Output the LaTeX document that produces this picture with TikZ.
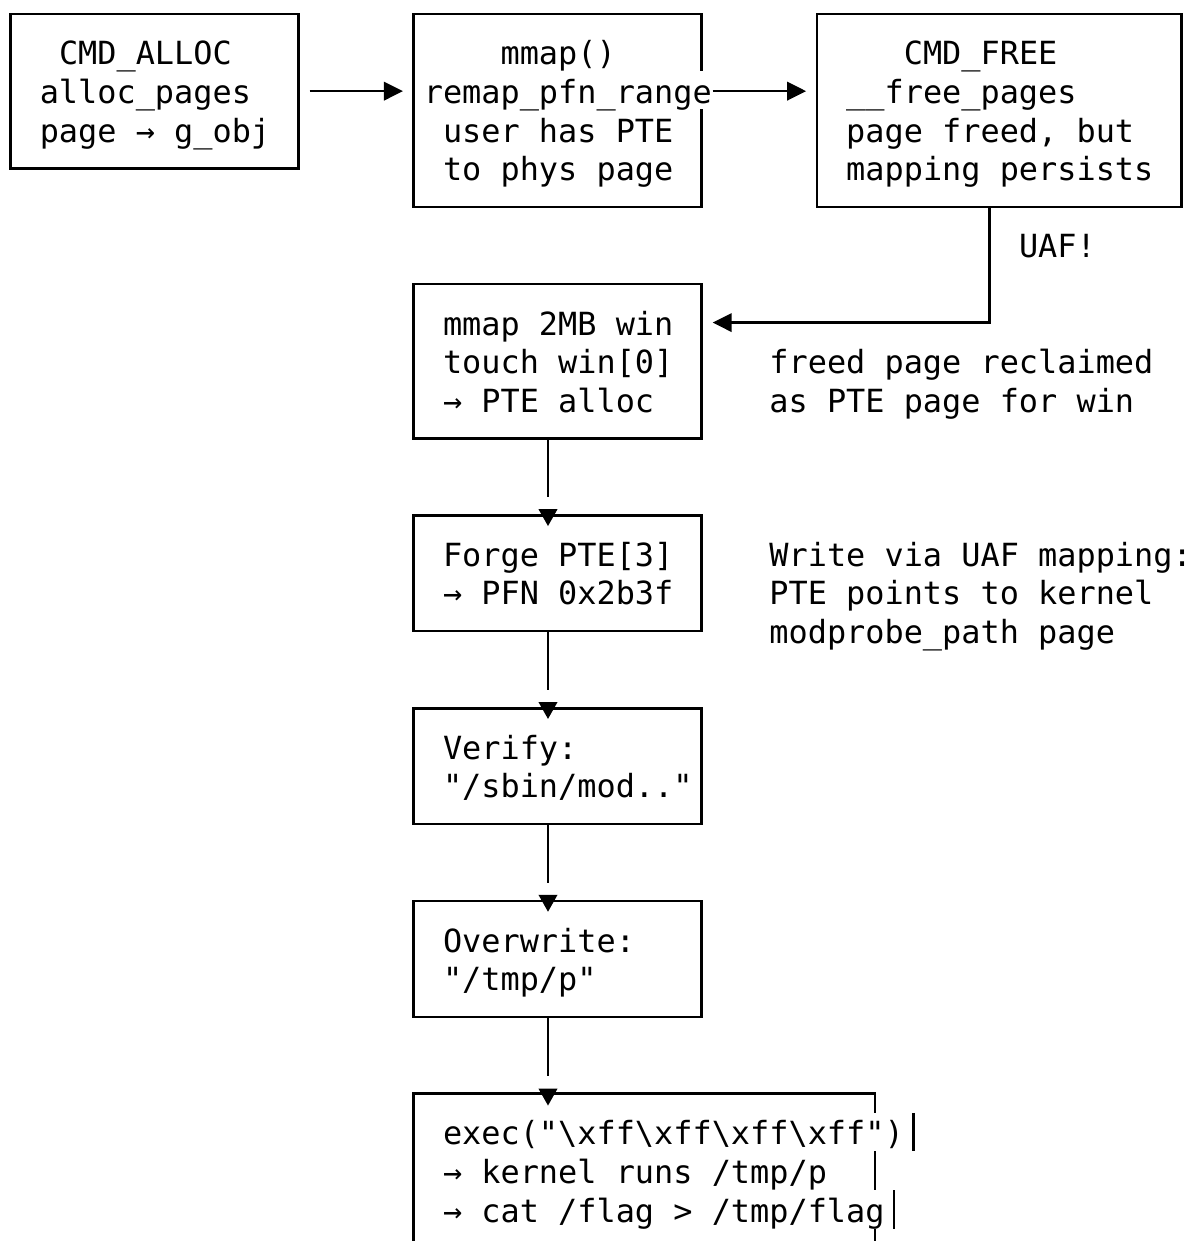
\documentclass[tikz,border=0pt]{standalone}
\usepackage{fontspec}
\newfontfamily\dvmono{DejaVu Sans Mono}
\usetikzlibrary{arrows.meta,calc,fit}
\newcommand\mlines[1]{\begin{tabular}[t]{@{}l@{}}#1\end{tabular}}
\begin{document}
\begin{tikzpicture}[x=0.5pt,y=-0.5pt,
  box/.style={draw, line width=1.3pt, inner sep=0pt},
  frame/.style={inner sep=0pt},
  txt/.style={inner sep=0pt, anchor=base west, font=\dvmono\fontsize{15.945}{19.285}\selectfont},
  edgeline/.style={draw, line width=1.3pt},
  harr/.style={draw, line width=1.3pt, -{Triangle[length=9.5pt,width=9.2pt]}},
  varr/.style={draw, line width=1.3pt, dash pattern=on 28.85pt off 20pt, -{Triangle[length=8.5pt,width=9.2pt]}}]
\useasboundingbox (0,0) rectangle (1192,1241);
\clip (0,0) rectangle (1192,1241);

% boxes
\node[box, fit={(10.4,14) (298.4,168.3)}] (A) {};
\node[box, fit={(413.6,14) (701.6,206.9)}] (B) {};
\node[box, fit={(816.8,14) (1181.6,206.9)}] (C) {};
\node[box, fit={(413.6,284) (701.6,438.3)}] (D) {};
\node[box, fit={(413.6,515.4) (701.6,631.1)}] (E) {};
\node[box, fit={(413.6,708.3) (701.6,824)}] (F) {};
\node[box, fit={(413.6,901.1) (701.6,1016.8)}] (G) {};
\node[frame, fit={(413.6,1094) (874.4,1248.2)}] (H) {};

% last box: ragged right border
\draw[edgeline] (H.south west) -- (H.north west) -- (H.north east) -- ($(H.north east)+(0,19.3)$);
\draw[edgeline] ($(H.north east)+(38.4,19.3)$) -- ($(H.north east)+(38.4,57.8)$);
\draw[edgeline] ($(H.north east)+(0,57.8)$) -- ($(H.north east)+(0,96.4)$);
\draw[edgeline] ($(H.north east)+(19.2,96.4)$) -- ($(H.north east)+(19.2,135)$);
\draw[edgeline] ($(H.north east)+(0,135)$) -- (H.south east);

% text overwrites the right border of B on its second line
\fill[white] ($(B.north east)+(-3,57.9)$) rectangle ($(B.north east)+(3,96.4)$);

% connectors
\draw[harr] ($(A.east)+(9.8,0)$) -- ($(A.east -| B.west)+(-9.4,0)$);
\draw[harr] ($(A.east -| B.east)+(9.8,0)$) -- ($(A.east -| C.west)+(-9.4,0)$);
\draw[harr] ($(C.south)+(-9.6,0)$) |- ($(D.east)+(9.8,-38.57)$);
\draw[varr] ($(D.south)+(-9.6,0)$) -- ($(E.north)+(-9.6,12)$);
\draw[varr] ($(E.south)+(-9.6,0)$) -- ($(F.north)+(-9.6,12)$);
\draw[varr] ($(F.south)+(-9.6,0)$) -- ($(G.north)+(-9.6,12)$);
\draw[varr] ($(G.south)+(-9.6,0)$) -- ($(G.south |- H.north)+(-9.6,12)$);

% texts
\node[txt] (tA) at (39.4,65.0) {\mlines{~CMD\_ALLOC\\alloc\_pages\\page → g\_obj}};
\node[txt] (tB) at (423.4,65.0) {\mlines{~~~~mmap()\\remap\_pfn\_range\\~user has PTE\\~to phys page}};
\node[txt] (tC) at (845.8,65.0) {\mlines{~~~CMD\_FREE\\\_\_free\_pages\\page freed, but\\mapping persists}};
\node[txt] (tUAF) at (1018.6,257.8) {UAF!};
\node[txt] (tD) at (442.6,335.0) {\mlines{mmap 2MB win\\touch win[0]\\→ PTE alloc}};
\node[txt] (tR1) at (769,373.5) {\mlines{freed page reclaimed\\as PTE page for win}};
\node[txt] (tE) at (442.6,566.4) {\mlines{Forge PTE[3]\\→ PFN 0x2b3f}};
\node[txt] (tR2) at (769,566.4) {\mlines{Write via UAF mapping:\\PTE points to kernel\\modprobe\_path page}};
\node[txt] (tF) at (442.6,759.2) {\mlines{Verify:\\"/sbin/mod.."}};
\node[txt] (tG) at (442.6,952.1) {\mlines{Overwrite:\\"/tmp/p"}};
\node[txt] (tH) at (442.6,1144.9) {\mlines{exec("\textbackslash xff\textbackslash xff\textbackslash xff\textbackslash xff")\\→ kernel runs /tmp/p\\→ cat /flag > /tmp/flag}};
\end{tikzpicture}
\end{document}
